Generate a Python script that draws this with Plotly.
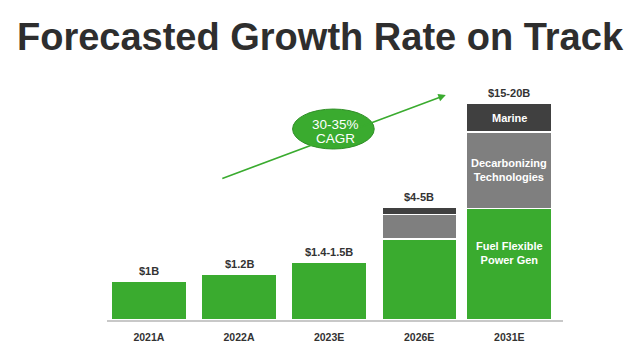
import plotly.graph_objects as go

# Data (bar heights are illustrative display heights)
categories = ["2021A", "2022A", "2023E", "2026E", "2031E"]
power_gen = [1.0, 1.18, 1.49, 2.08, 2.86]
decarb = [None, None, None, 0.63, 1.96]
marine = [None, None, None, 0.19, 0.74]
totals_labels = ["$1B", "$1.2B", "$1.4-1.5B", "$4-5B", "$15-20B"]
bar_widths = [0.83, 0.83, 0.83, 0.83, 0.95]
cagr_lines = ["30-35%", "CAGR"]

GREEN = "#3aab2f"
GRAY = "#7f7f7f"
DARK = "#404040"
TXT = "#333333"
FONT = "Liberation Sans"

fig = go.Figure()
for name, vals, col in [("Fuel Flexible Power Gen", power_gen, GREEN),
                        ("Decarbonizing Technologies", decarb, GRAY),
                        ("Marine", marine, DARK)]:
    fig.add_trace(go.Bar(x=categories, y=vals, name=name, width=bar_widths,
                         marker=dict(color=col, line=dict(color="white", width=1.5)),
                         hoverinfo="skip"))

annotations = []
# Totals above bars
for i, c in enumerate(categories):
    tot = sum(v for v in (power_gen[i], decarb[i], marine[i]) if v)
    annotations.append(dict(x=c, y=tot, xref="x", yref="y", text=totals_labels[i],
                            showarrow=False, yanchor="bottom", yshift=2,
                            font=dict(family=FONT, size=11, color=TXT, weight="bold")))

# Segment labels in last bar
last = len(categories) - 1
seg_labels = [("Fuel Flexible<br>Power Gen", power_gen[last] / 2, 11),
              ("Decarbonizing<br>Technologies", power_gen[last] + decarb[last] / 2, 0),
              ("Marine", power_gen[last] + decarb[last] + marine[last] / 2, 0)]
for txt, yv, ys in seg_labels:
    annotations.append(dict(x=categories[last], y=yv, xref="x", yref="y", text=txt,
                            showarrow=False, yshift=ys,
                            font=dict(family=FONT, size=11, color="white", weight="bold")))

# Growth arrow
annotations.append(dict(x=0.743, y=0.9375, xref="paper", yref="paper",
                        ax=-225, ay=84, axref="pixel", ayref="pixel",
                        showarrow=True, arrowhead=2, arrowsize=1, arrowwidth=1.5,
                        arrowcolor=GREEN, text=""))
# CAGR text (two single-line annotations)
for txt, yv in zip(cagr_lines, [0.815, 0.757]):
    annotations.append(dict(x=0.5, y=yv, xref="paper", yref="paper",
                            text=txt, showarrow=False, yanchor="middle",
                            font=dict(family=FONT, size=13.5, color="white")))

fig.update_layout(
    width=640, height=351,
    margin=dict(l=107, r=77, t=80, b=31),
    paper_bgcolor="white", plot_bgcolor="white",
    barmode="stack",
    showlegend=False,
    title=dict(text="Forecasted Growth Rate on Track", x=0.5, xanchor="center",
               xref="container", yref="container", y=1 - 37 / 351, yanchor="middle",
               font=dict(family=FONT, size=38, color="#2e2e2e", weight="bold")),
    xaxis=dict(range=[-0.465, 4.596], showgrid=False, zeroline=False,
               showline=True, linecolor="#c8c8c8", linewidth=2, automargin=False,
               ticks="", tickfont=dict(family=FONT, size=10.5, color=TXT, weight="bold"),
               ticklabelstandoff=6),
    yaxis=dict(range=[0, 240 / 39], visible=False, showgrid=False, zeroline=False,
               automargin=False),
    shapes=[dict(type="circle", xref="paper", yref="paper",
                 x0=0.407, x1=0.586, y0=0.7125, y1=0.879,
                 fillcolor=GREEN, line=dict(color="#2f8f26", width=1), layer="above")],
    annotations=annotations,
)

fig.write_html("out.html")
